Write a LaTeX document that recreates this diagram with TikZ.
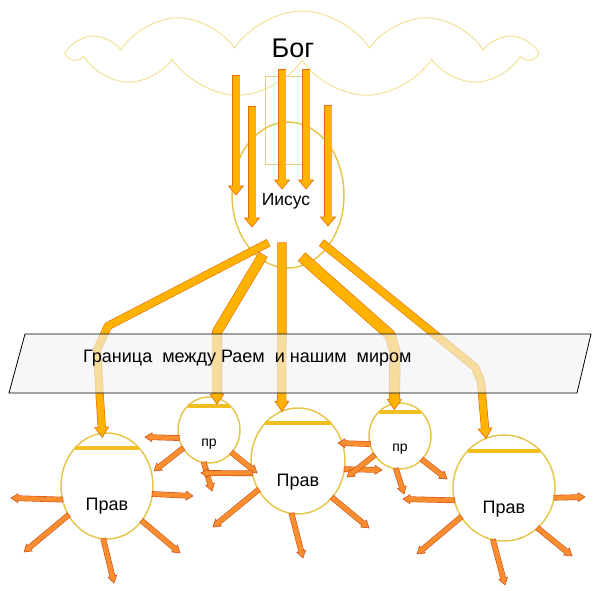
\documentclass[tikz,border=0pt]{standalone}
\usepackage{fontspec}
\setmainfont{Liberation Sans}
\usetikzlibrary{calc,shapes.geometric,shapes.symbols}
\definecolor{arrgold}{RGB}{255,179,0}
\definecolor{arredge}{RGB}{228,108,10}
\definecolor{rayfill}{RGB}{248,142,48}
\definecolor{rayedge}{RGB}{212,82,20}
\definecolor{rim}{RGB}{231,198,78}
\definecolor{lidc}{RGB}{240,190,30}
\definecolor{cloudc}{RGB}{242,226,150}
\definecolor{boxc}{RGB}{226,206,130}
\tikzset{shaftw/.code={\def\arrsw{#1}},
         headw/.code={\def\arrhw{#1}},
         headl/.code={\def\arrhl{#1}},
         arrcols/.code 2 args={\def\arrfill{#1}\def\arredge{#2}},
         skyarrow/.style={shaftw=7pt,headw=7.5pt,headl=9pt,arrcols={arrgold}{arredge}},
         bigarrow/.style={shaftw=8pt,headw=7pt,headl=10pt,arrcols={arrgold}{arredge}},
         rayarrow/.style={shaftw=4.5pt,headw=4.5pt,headl=7pt,arrcols={rayfill}{rayedge}},
         circ/.style={ellipse,draw=rim,line width=1.5pt,inner sep=0pt,outer sep=0pt},
         lid/.style={draw=lidc,line width=4pt},
         lbl/.style={font=\fontsize{18}{20}\selectfont,anchor=base,inner sep=0pt}}

% block arrow: #2 shaft up to last bend, #3 last bend, #4 tip
\newcommand\blockarrow[4][]{%
  \begin{scope}[#1]
  \path #4 coordinate (ba-tip) #3 coordinate (ba-bend);
  \path ($(ba-tip)!\arrhl!(ba-bend)$) coordinate (ba-base);
  \draw[line width=\arrsw+1.2pt,draw=\arredge,shorten <=-.6pt,line join=round] #2 -- (ba-base);
  \filldraw[fill=\arrfill,draw=\arredge,line width=.6pt,line join=miter]
    ($(ba-base)!\arrhw!-90:(ba-bend)$) -- (ba-tip) -- ($(ba-base)!\arrhw!90:(ba-bend)$) -- cycle;
  \draw[line width=\arrsw,draw=\arrfill,line join=round] #2 -- ($(ba-base)!-1pt!(ba-bend)$);
  \end{scope}}

\begin{document}
\begin{tikzpicture}[x=1pt,y=-1pt]
  \useasboundingbox (0,0) rectangle (603,591);
  % heaven
  \node[cloud,cloud puffs=11,cloud puff arc=115,cloud ignores aspect,draw=cloudc,fill=white,
        line width=1pt,minimum width=462pt,minimum height=86pt,inner sep=0pt] (heaven) at (302,54) {};
  \draw[boxc,line width=.8pt] (265,76) rectangle (303,164);
  \node[circ,minimum width=112pt,minimum height=146pt] (jesus) at (288,195) {};

  % the five below
  \node[circ,minimum width=92pt,minimum height=106pt] (P1) at (107,486) {};
  \node[circ,minimum width=62pt,minimum height=66pt] (p1) at (209,430) {};
  \node[circ,minimum width=94pt,minimum height=106pt] (P2) at (298,461) {};
  \node[circ,minimum width=62pt,minimum height=66pt] (p2) at (400,436) {};
  \node[circ,minimum width=102pt,minimum height=106pt] (P3) at (504,488) {};
  \foreach \n/\a/\b in {P1/50/130,p1/48/132,P2/49/131,p2/48/132,P3/46/134}
    \draw[lid] (\n.\a) -- (\n.\b);

  % rays from heaven
  \foreach \i/\x/\ya/\yb in {1/236/76/195,2/252/107/227,3/282/70/189,4/306/70/189,5/328/106/226}{
    \coordinate (s\i) at (\x,\ya);
    \coordinate (e\i) at (\x,\yb);
    \blockarrow[skyarrow]{(s\i)}{(s\i)}{(e\i)}
  }

  % from Jesus down through the border
  \coordinate (b1s) at (268,243); \coordinate (b1m) at (108,326);
  \coordinate (b1n) at (97,350);  \coordinate (b1o) at (100,400);
  \blockarrow[bigarrow,shaftw=7pt]{(b1s) -- (b1m) -- (b1n) -- (b1o)}{(b1o)}{([yshift=-4pt]P1.95)}
  \coordinate (b2s) at (263,255); \coordinate (b2m) at (217,332);
  \blockarrow[bigarrow,shaftw=9pt]{(b2s) -- (b2m)}{(b2m)}{([yshift=-6pt]p1.76)}
  \coordinate (b3s) at (282,243);
  \blockarrow[bigarrow]{(b3s)}{(b3s)}{(P2.108)}
  \coordinate (b4s) at (302,257); \coordinate (b4m) at (390,335);
  \coordinate (b4n) at (395,352);
  \blockarrow[bigarrow,shaftw=10pt]{(b4s) -- (b4m) -- (b4n)}{(b4n)}{([yshift=-6pt]p2.100)}
  \coordinate (b5s) at (322,243); \coordinate (b5m) at (475,367);
  \coordinate (b5n) at (481,382);
  \blockarrow[bigarrow,shaftw=7pt]{(b5s) -- (b5m) -- (b5n)}{(b5n)}{(P3.110)}

  % small rays
  \foreach \n/\a/\dx/\dy in {P1/197/-96/12,P1/350/86/10,P1/217/-83/66,P1/266/7/97,P1/315/73/67,
      p1/195/-64/7,p1/215/-55/41,p1/261/3/61,p1/315/48/43,
      P2/195/-97/12,P2/216/-85/66,P2/263/5/97,P2/313/71/67,P2/350/84/9,
      p2/195/-62/7,p2/217/-53/41,p2/263/4/58,p2/313/47/43,
      P3/194/-101/11,P3/214/-87/66,P3/258/1/97,P3/310/68/68,P3/349/81/9}{
    \blockarrow[rayarrow]{(\n.\a)}{(\n.\a)}{($(\n.center)+(\dx,\dy)$)}
  }

  % border
  \draw[line width=.8pt,fill=gray!10,fill opacity=.65] (25,334) -- (591,334) -- (577,393) -- (9,393) -- cycle;
  \node[font=\fontsize{18}{20}\selectfont,anchor=base west,inner sep=0pt] (limit) at (83,362)
    {Граница\ \ между Раем\ \ и нашим\ \ миром};

  % labels
  \node[lbl,font=\fontsize{27}{30}\selectfont] (god) at (293,58) {Бог};
  \node[lbl,font=\fontsize{17.5}{20}\selectfont] (jname) at (286,206) {Иисус};
  \node[lbl] (t1) at ([yshift=-24pt]P1.center) {Прав};
  \node[lbl] (t2) at ([yshift=-25pt]P2.center) {Прав};
  \node[lbl] (t3) at ([yshift=-25pt]P3.center) {Прав};
  \node[lbl,font=\fontsize{14}{16}\selectfont] (s1) at ([yshift=-16pt]p1.center) {пр};
  \node[lbl,font=\fontsize{14}{16}\selectfont] (s2) at ([yshift=-15pt]p2.center) {пр};
\end{tikzpicture}
\end{document}
